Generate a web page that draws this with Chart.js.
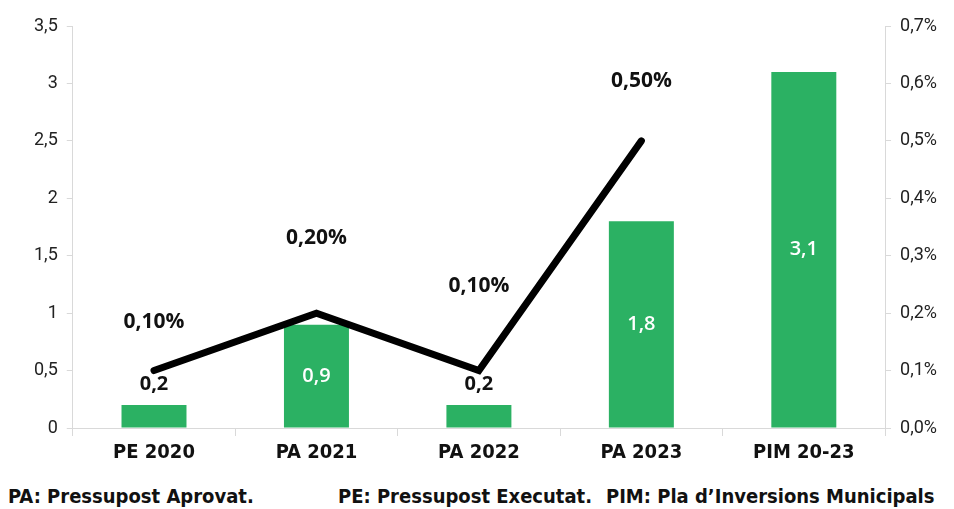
<!DOCTYPE html>
<html>
<head>
<meta charset="utf-8">
<script src="https://cdn.jsdelivr.net/npm/chart.js@4"></script>
<style>
  body { margin: 0; background: #fff; }
  #wrap { position: relative; width: 954px; height: 509px; }
  #box { position: absolute; left: 0; top: 0; width: 954px; height: 470px; }
  .note {
    position: absolute; top: 484px;
    font-family: "DejaVu Sans Condensed", "DejaVu Sans", sans-serif;
    font-weight: bold; font-size: 20px; color: #111;
  }
</style>
</head>
<body>
<div id="wrap">
  <div id="box"><canvas id="chart"></canvas></div>
  <span class="note" style="left:8px">PA: Pressupost Aprovat.</span>
  <span class="note" style="left:338px">PE: Pressupost Executat.</span>
  <span class="note" style="left:606px">PIM: Pla d’Inversions Municipals</span>
</div>
<script>
const categories = ["PE 2020", "PA 2021", "PA 2022", "PA 2023", "PIM 20-23"];
const amounts = [0.2, 0.9, 0.2, 1.8, 3.1];
const shares = [0.10, 0.20, 0.10, 0.50, null];

function comma(v, digits) {
    return v.toFixed(digits).replace(".", ",");
}

// label placement: bars shorter than this get the label above
const insideMin = 0.5;
const shareLift = [49, 75, 85, 60, 0];

const valueLabels = {
    id: "valueLabels",
    afterDatasetsDraw(chart) {
        const ctx = chart.ctx;
        ctx.save();
        ctx.textAlign = "center";
        ctx.textBaseline = "middle";

        const bars = chart.getDatasetMeta(1).data;
        bars.forEach(function(bar, i) {
            const v = amounts[i];
            if (v < insideMin) {
                ctx.font = "bold 20px 'Open Sans'";
                ctx.fillStyle = "#111";
                ctx.fillText(comma(v, 1), bar.x, bar.y - 21);
            } else {
                ctx.font = "600 20px 'Open Sans'";
                ctx.fillStyle = "#fff";
                ctx.fillText(comma(v, 1), bar.x, (bar.y + bar.base) / 2);
            }
        });

        const pts = chart.getDatasetMeta(0).data;
        pts.forEach(function(pt, i) {
            if (shares[i] === null) {
                return;
            }
            ctx.font = "bold 21px 'Open Sans'";
            ctx.fillStyle = "#111";
            ctx.fillText(comma(shares[i], 2) + "%", pt.x, pt.y - shareLift[i]);
        });
        ctx.restore();
    }
};

const axisColor = "#d9d9d9";
const tickFont = { family: "Roboto", size: 18 };

new Chart(document.getElementById("chart"), {
    data: {
        labels: categories,
        datasets: [
            {
                type: "line",
                data: shares,
                yAxisID: "y1",
                borderColor: "#000",
                borderWidth: 7,
                borderCapStyle: "round",
                borderJoinStyle: "miter",
                pointRadius: 0,
                tension: 0,
                order: 0
            },
            {
                type: "bar",
                data: amounts,
                yAxisID: "y",
                backgroundColor: "#2bb163",
                barPercentage: 0.4,
                categoryPercentage: 1,
                order: 1
            }
        ]
    },
    options: {
        responsive: true,
        maintainAspectRatio: false,
        animation: false,
        events: [],
        layout: { padding: { top: 26, left: 25, right: 8, bottom: 0 } },
        plugins: {
            legend: { display: false },
            tooltip: { enabled: false }
        },
        scales: {
            x: {
                offset: true,
                border: { color: axisColor, width: 1 },
                grid: {
                    offset: true,
                    drawOnChartArea: false,
                    color: axisColor,
                    tickLength: 8
                },
                ticks: {
                    color: "#111",
                    padding: 5,
                    font: { family: "DejaVu Sans Condensed", size: 20, weight: "bold" }
                }
            },
            y: {
                position: "left",
                min: 0,
                max: 3.5,
                border: { color: axisColor },
                grid: { drawOnChartArea: false, color: axisColor, tickLength: 6 },
                ticks: {
                    stepSize: 0.5,
                    color: "#222",
                    padding: 9,
                    font: tickFont,
                    callback: function(v) {
                        return String(v).replace(".", ",");
                    }
                }
            },
            y1: {
                position: "right",
                min: 0,
                max: 0.7,
                border: { color: axisColor },
                grid: { drawOnChartArea: false, color: axisColor, tickLength: 6 },
                ticks: {
                    stepSize: 0.1,
                    color: "#222",
                    padding: 9,
                    font: tickFont,
                    callback: function(v) {
                        return comma(v, 1) + "%";
                    }
                }
            }
        }
    },
    plugins: [valueLabels]
});
</script>
</body>
</html>
